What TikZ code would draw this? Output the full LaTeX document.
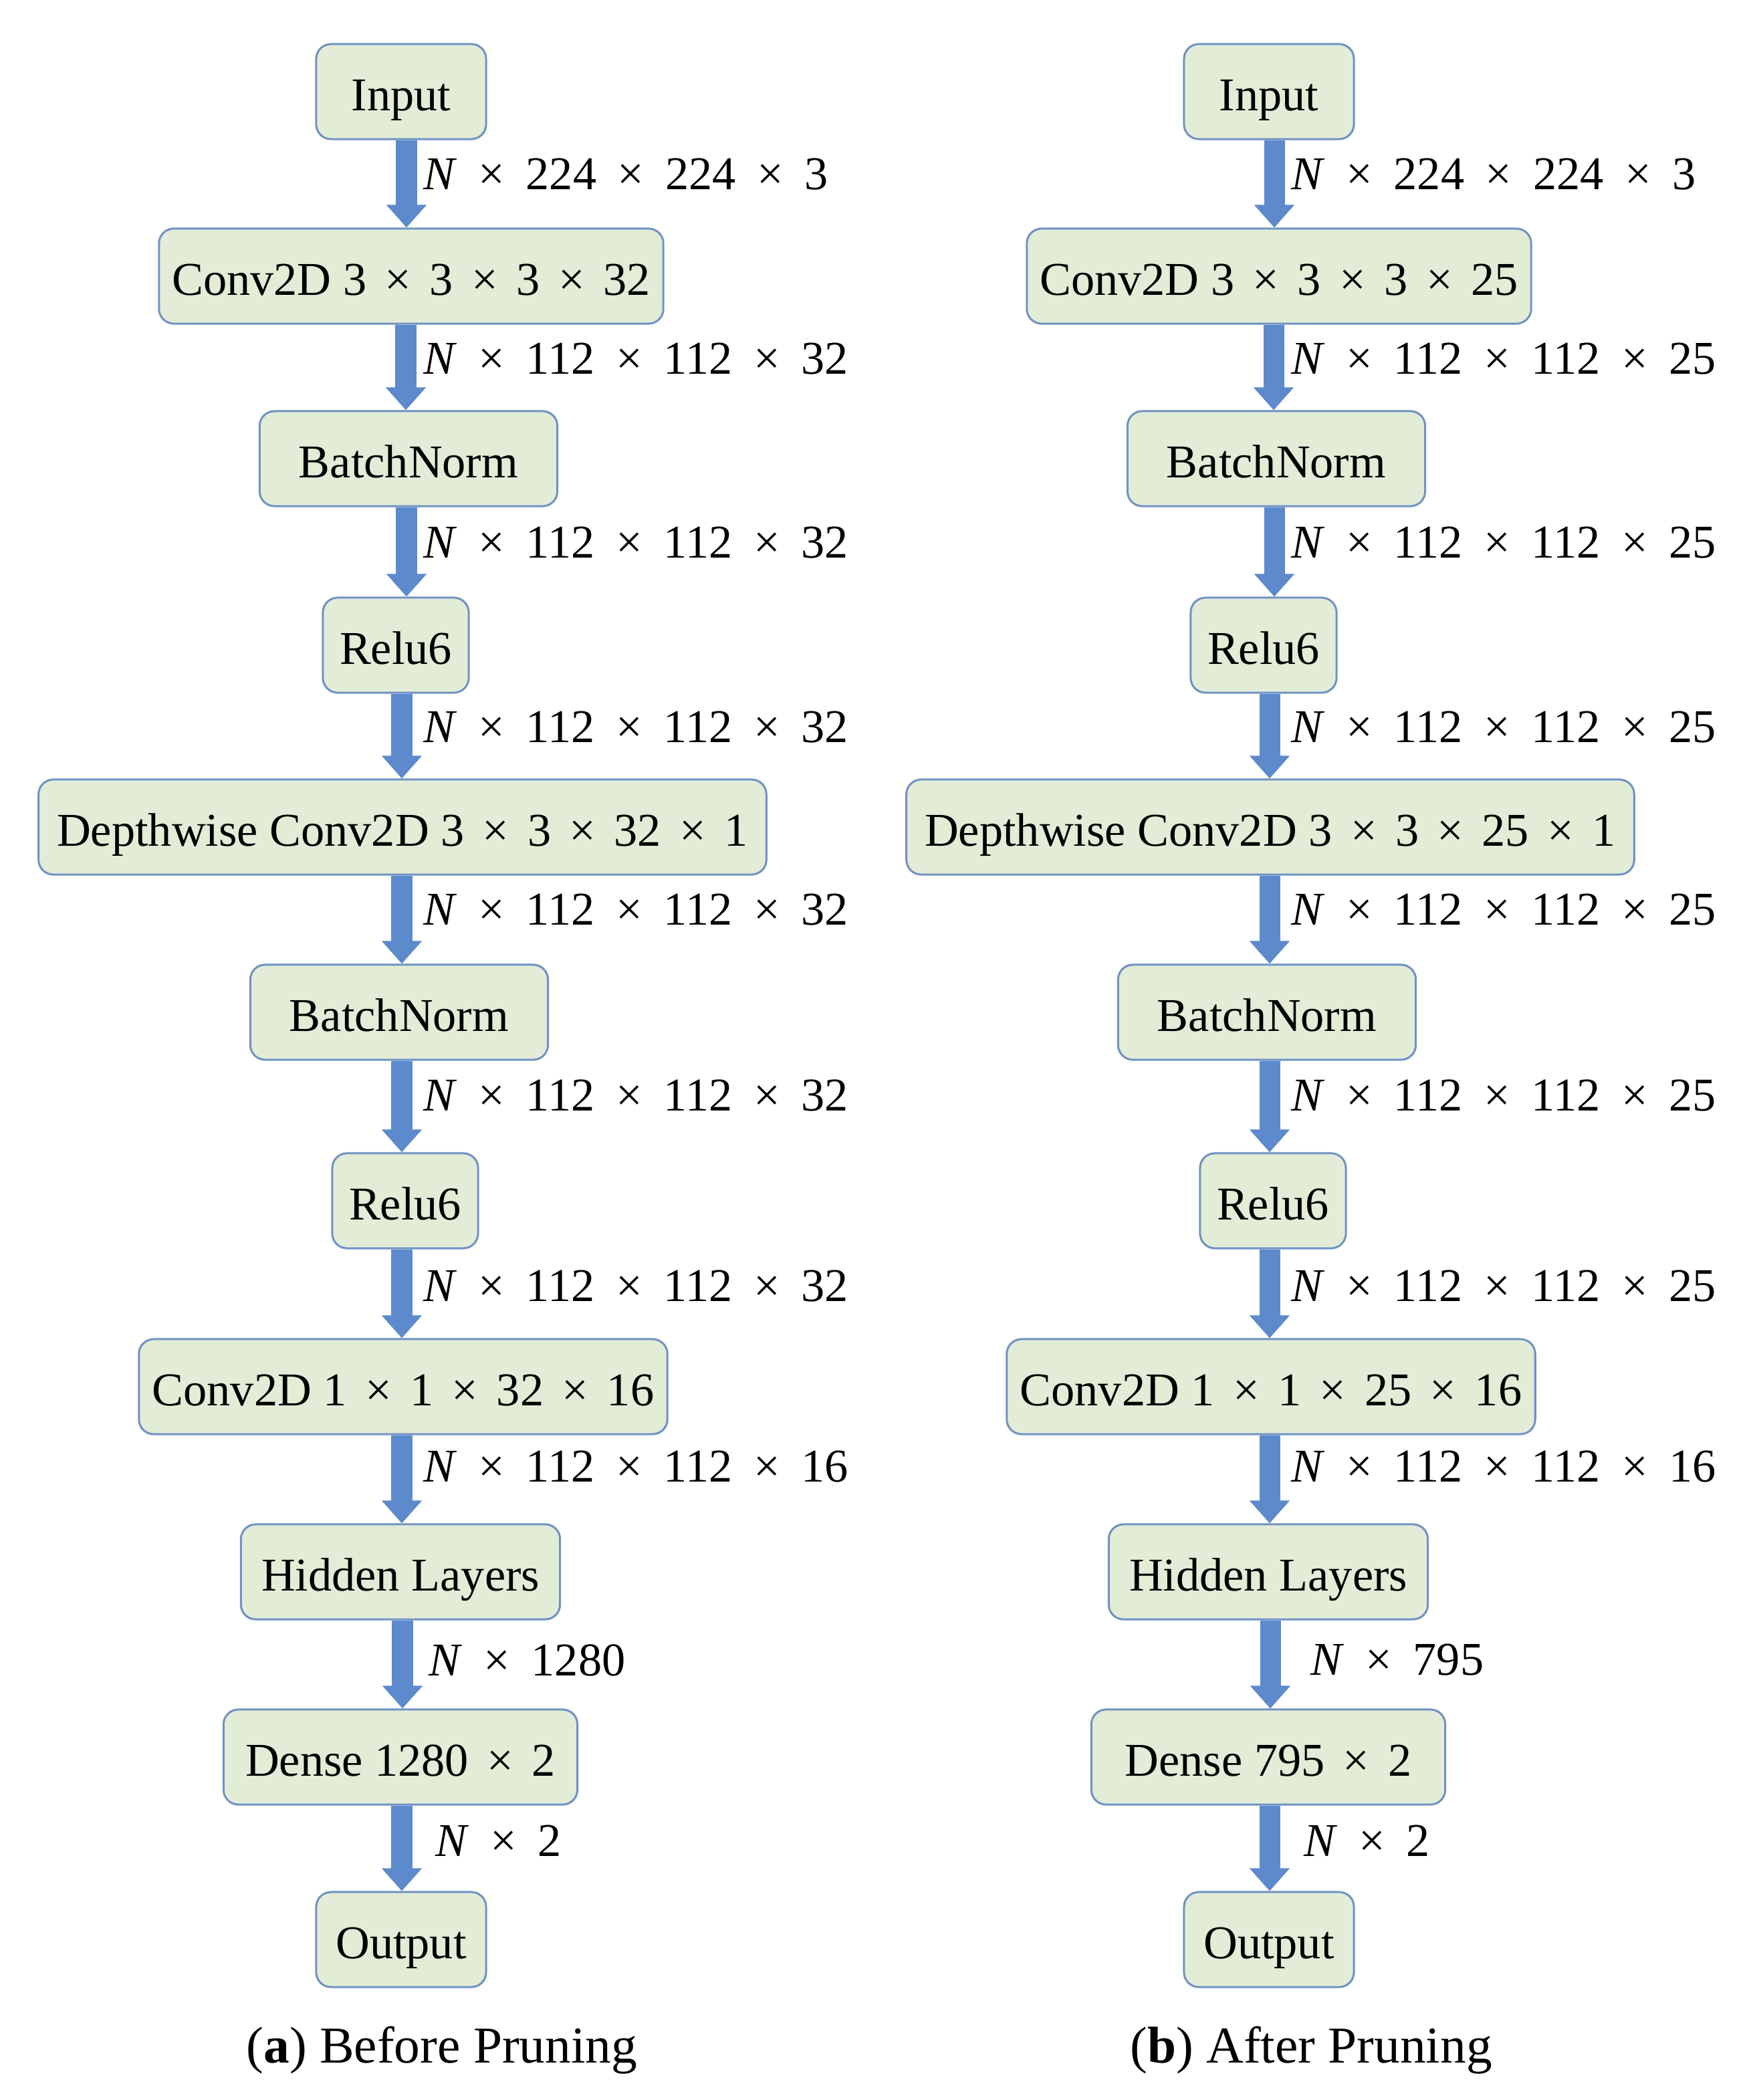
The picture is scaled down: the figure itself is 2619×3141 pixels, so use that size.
\documentclass[tikz,border=0pt]{standalone}
\usepackage{fontspec}
\setmainfont{Liberation Serif}
\usetikzlibrary{arrows.meta}
\definecolor{boxfill}{RGB}{226,236,214}
\definecolor{boxdraw}{RGB}{112,146,196}
\definecolor{arrowblue}{RGB}{92,138,204}
\newcommand\tms{\hspace{0.39em}×\hspace{0.39em}}
\newcommand\ltms{\hspace{0.45em}×\hspace{0.45em}}
\newcommand\NN{\textit{N}}
\begin{document}
\begin{tikzpicture}[x=0.01cm,y=-0.01cm,
  box/.style={draw=boxdraw, line width=0.03cm, fill=boxfill, rounded corners=0.22cm,
    minimum height=1.42cm, inner sep=0pt, text height=0.56cm, text depth=0pt,
    font=\fontsize{20}{24}\selectfont},
  lab/.style={anchor=west, inner sep=0pt, font=\fontsize{20}{24}\selectfont},
  captext/.style={anchor=base, inner sep=0pt, font=\fontsize{22}{26}\selectfont},
  arr/.style={draw=arrowblue, line width=0.31cm, -{Triangle[width=0.58cm,length=0.34cm]}}]
\useasboundingbox (0,0) rectangle (2619,3141);
\fill[white] (0,0) rectangle (2619,3141);

% ---------- left column ----------
\node[box, minimum width=2.54cm] (inA) at (600,137) {Input};
\node[box, minimum width=7.54cm] (c1A) at (615,413) {Conv2D 3\tms3\tms3\tms32};
\node[box, minimum width=4.45cm] (bn1A) at (611,686) {BatchNorm};
\node[box, minimum width=2.18cm] (r1A) at (592,965) {Relu6};
\node[box, minimum width=10.88cm] (dwA) at (602,1237) {Depthwise Conv2D 3\tms3\tms32\tms1};
\node[box, minimum width=4.45cm] (bn2A) at (597,1514) {BatchNorm};
\node[box, minimum width=2.18cm] (r2A) at (606,1796) {Relu6};
\node[box, minimum width=7.90cm] (c2A) at (603,2074) {Conv2D 1\tms1\tms32\tms16};
\node[box, minimum width=4.77cm] (hlA) at (599,2351) {Hidden Layers};
\node[box, minimum width=5.29cm] (deA) at (599,2628) {Dense 1280\tms2};
\node[box, minimum width=2.54cm] (outA) at (600,2901) {Output};

\coordinate (xa1) at (608,0);
\coordinate (xa2) at (607,0);
\coordinate (xa3) at (608,0);
\coordinate (xa4) at (601,0);
\coordinate (xa5) at (601,0);
\coordinate (xa6) at (601,0);
\coordinate (xa7) at (601,0);
\coordinate (xa8) at (601,0);
\coordinate (xa9) at (602,0);
\coordinate (xa10) at (601,0);

\draw[arr] (inA.south -| xa1) -- (c1A.north -| xa1);
\draw[arr] (c1A.south -| xa2) -- (bn1A.north -| xa2);
\draw[arr] (bn1A.south -| xa3) -- (r1A.north -| xa3);
\draw[arr] (r1A.south -| xa4) -- (dwA.north -| xa4);
\draw[arr] (dwA.south -| xa5) -- (bn2A.north -| xa5);
\draw[arr] (bn2A.south -| xa6) -- (r2A.north -| xa6);
\draw[arr] (r2A.south -| xa7) -- (c2A.north -| xa7);
\draw[arr] (c2A.south -| xa8) -- (hlA.north -| xa8);
\draw[arr] (hlA.south -| xa9) -- (deA.north -| xa9);
\draw[arr] (deA.south -| xa10) -- (outA.north -| xa10);

\node[lab] (l1A) at (633,261) {\NN\ltms224\ltms224\ltms3};
\node[lab] (l2A) at (633,537) {\NN\ltms112\ltms112\ltms32};
\node[lab] (l3A) at (633,812) {\NN\ltms112\ltms112\ltms32};
\node[lab] (l4A) at (633,1088) {\NN\ltms112\ltms112\ltms32};
\node[lab] (l5A) at (633,1361) {\NN\ltms112\ltms112\ltms32};
\node[lab] (l6A) at (633,1639) {\NN\ltms112\ltms112\ltms32};
\node[lab] (l7A) at (633,1924) {\NN\ltms112\ltms112\ltms32};
\node[lab] (l8A) at (633,2194) {\NN\ltms112\ltms112\ltms16};
\node[lab] (l9A) at (641,2483) {\NN\ltms1280};
\node[lab] (l10A) at (651,2753) {\NN\ltms2};

\node[captext] (capA) at (661,3085) {(\textbf{a}) Before Pruning};

% ---------- right column ----------
\node[box, minimum width=2.54cm] (inB) at (1898,137) {Input};
\node[box, minimum width=7.54cm] (c1B) at (1913,413) {Conv2D 3\tms3\tms3\tms25};
\node[box, minimum width=4.45cm] (bn1B) at (1909,686) {BatchNorm};
\node[box, minimum width=2.18cm] (r1B) at (1890,965) {Relu6};
\node[box, minimum width=10.88cm] (dwB) at (1900,1237) {Depthwise Conv2D 3\tms3\tms25\tms1};
\node[box, minimum width=4.45cm] (bn2B) at (1895,1514) {BatchNorm};
\node[box, minimum width=2.18cm] (r2B) at (1904,1796) {Relu6};
\node[box, minimum width=7.90cm] (c2B) at (1901,2074) {Conv2D 1\tms1\tms25\tms16};
\node[box, minimum width=4.77cm] (hlB) at (1897,2351) {Hidden Layers};
\node[box, minimum width=5.29cm] (deB) at (1897,2628) {Dense 795\tms2};
\node[box, minimum width=2.54cm] (outB) at (1898,2901) {Output};

\coordinate (xb1) at (1906,0);
\coordinate (xb2) at (1905,0);
\coordinate (xb3) at (1906,0);
\coordinate (xb4) at (1899,0);
\coordinate (xb5) at (1899,0);
\coordinate (xb6) at (1899,0);
\coordinate (xb7) at (1899,0);
\coordinate (xb8) at (1899,0);
\coordinate (xb9) at (1900,0);
\coordinate (xb10) at (1899,0);

\draw[arr] (inB.south -| xb1) -- (c1B.north -| xb1);
\draw[arr] (c1B.south -| xb2) -- (bn1B.north -| xb2);
\draw[arr] (bn1B.south -| xb3) -- (r1B.north -| xb3);
\draw[arr] (r1B.south -| xb4) -- (dwB.north -| xb4);
\draw[arr] (dwB.south -| xb5) -- (bn2B.north -| xb5);
\draw[arr] (bn2B.south -| xb6) -- (r2B.north -| xb6);
\draw[arr] (r2B.south -| xb7) -- (c2B.north -| xb7);
\draw[arr] (c2B.south -| xb8) -- (hlB.north -| xb8);
\draw[arr] (hlB.south -| xb9) -- (deB.north -| xb9);
\draw[arr] (deB.south -| xb10) -- (outB.north -| xb10);

\node[lab] (l1B) at (1931,261) {\NN\ltms224\ltms224\ltms3};
\node[lab] (l2B) at (1931,537) {\NN\ltms112\ltms112\ltms25};
\node[lab] (l3B) at (1931,812) {\NN\ltms112\ltms112\ltms25};
\node[lab] (l4B) at (1931,1088) {\NN\ltms112\ltms112\ltms25};
\node[lab] (l5B) at (1931,1361) {\NN\ltms112\ltms112\ltms25};
\node[lab] (l6B) at (1931,1639) {\NN\ltms112\ltms112\ltms25};
\node[lab] (l7B) at (1931,1924) {\NN\ltms112\ltms112\ltms25};
\node[lab] (l8B) at (1931,2194) {\NN\ltms112\ltms112\ltms16};
\node[lab] (l9B) at (1960,2483) {\NN\ltms795};
\node[lab] (l10B) at (1950,2753) {\NN\ltms2};

\node[captext] (capB) at (1961,3085) {(\textbf{b}) After Pruning};
\end{tikzpicture}
\end{document}
